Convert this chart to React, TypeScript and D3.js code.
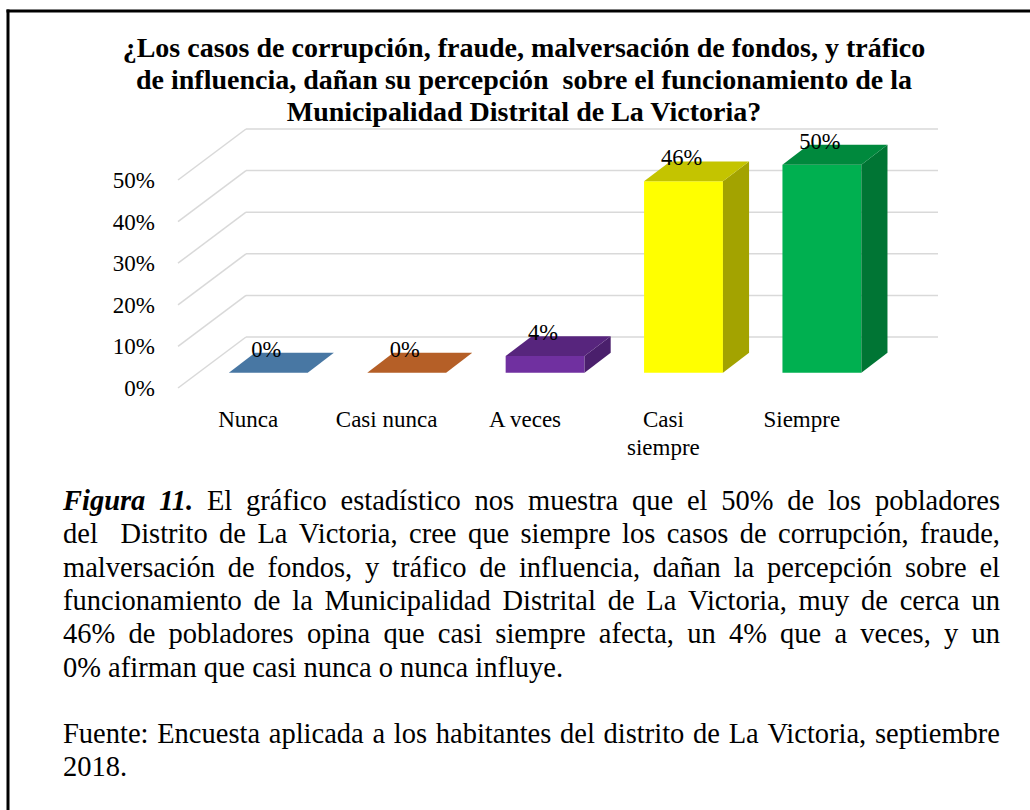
import React, { useMemo } from "react";
import * as d3 from "d3";

const titleLines = [
  "¿Los casos de corrupción, fraude, malversación de fondos, y tráfico",
  "de influencia, dañan su percepción  sobre el funcionamiento de la",
  "Municipalidad Distrital de La Victoria?",
];
const categories = ["Nunca", "Casi nunca", "A veces", "Casi siempre", "Siempre"];
const categoryLabelLines = [["Nunca"], ["Casi nunca"], ["A veces"], ["Casi", "siempre"], ["Siempre"]];
const values = [0, 0, 0.04, 0.46, 0.5];
const yTicks = [0, 0.1, 0.2, 0.3, 0.4, 0.5];

const frontColors = ["#5B9BD5", "#ED7D31", "#7030A0", "#FFFF00", "#00B050"];
const topColors = ["#4877A3", "#B55F27", "#57257D", "#C4C400", "#00893D"];
const sideColors = ["#3D6590", "#9A5022", "#4A1F6C", "#A3A300", "#007534"];

const captionLeadBold = "Figura 11.";
const captionLines = [
  " El gráfico estadístico nos muestra que el 50% de los pobladores",
  "del  Distrito de La Victoria, cree que siempre los casos de corrupción, fraude,",
  "malversación de fondos, y tráfico de influencia, dañan la percepción sobre el",
  "funcionamiento de la Municipalidad Distrital de La Victoria, muy de cerca un",
  "46% de pobladores opina que casi siempre afecta, un 4% que a veces, y un",
  "0% afirman que casi nunca o nunca influye.",
];
const sourceLines = [
  "Fuente: Encuesta aplicada a los habitantes del distrito de La Victoria, septiembre",
  "2018.",
];

const FONT = "'Liberation Serif', 'Times New Roman', serif";

let _canvas: HTMLCanvasElement | null = null;
function measure(text: string, font: string): number {
  if (!_canvas) _canvas = document.createElement("canvas");
  const ctx = _canvas.getContext("2d")!;
  ctx.font = font;
  return ctx.measureText(text).width;
}

type Tok = { text: string; bold: boolean };

function justify(tokens: Tok[], left: number, width: number, size: number, doJustify: boolean) {
  const reg = `${size}px 'Liberation Serif'`;
  const bi = `italic bold ${size}px 'Liberation Serif'`;
  const widths = tokens.map((t) => (t.text ? measure(t.text, t.bold ? bi : reg) : 0));
  const space = measure(" ", reg);
  const sum = d3.sum(widths);
  const gaps = tokens.length - 1;
  const gap = doJustify && gaps > 0 ? Math.max(space * 0.9, (width - sum) / gaps) : space;
  const out: { text: string; bold: boolean; x: number }[] = [];
  let x = left;
  tokens.forEach((t, i) => {
    out.push({ text: t.text, bold: t.bold, x });
    x += widths[i] + gap;
  });
  return out;
}

function toTokens(line: string, bold = false): Tok[] {
  return line.split(" ").map((w) => ({ text: w, bold }));
}

export default function App() {
  const W = 1030;
  const H = 810;

  const DX = 67;
  const DY = 51;
  const z0 = 0.3;
  const z1 = 0.69;

  const x = d3.scaleBand<string>().domain(categories).range([179, 871]).padding(0);
  const y = d3.scaleLinear().domain([0, 0.5]).range([388, 180]);
  const barFrac = 0.57;
  const fmt = d3.format(".0%");

  const capSize = 28.5;
  const capLeft = 63;
  const capWidth = 937;
  const capBase = 510;
  const capLH = 33.3;

  const caption = useMemo(() => {
    const lines: { words: { text: string; bold: boolean; x: number }[]; y: number }[] = [];
    captionLines.forEach((ln, i) => {
      let toks: Tok[];
      if (i === 0) {
        toks = [...toTokens(captionLeadBold, true), ...toTokens(ln.trim())];
      } else toks = toTokens(ln);
      lines.push({ words: justify(toks, capLeft, capWidth, capSize, i < captionLines.length - 1), y: capBase + i * capLH });
    });
    sourceLines.forEach((ln, i) => {
      lines.push({ words: justify(toTokens(ln), capLeft, capWidth, capSize, i === 0), y: 743 + i * capLH });
    });
    return lines;
  }, []);

  const proj = (px: number, v: number, z: number): [number, number] => [px + z * DX, y(v) - z * DY];
  const poly = (pts: [number, number][]) => pts.map((p) => p.join(",")).join(" ");

  return (
    <svg
      width={W}
      height={H}
      style={{ position: "absolute", left: 0, top: 0, background: "#fff" }}
      fontFamily={FONT}
    >
      <rect x={0} y={0} width={W} height={H} fill="#fff" />
      <line x1={6.5} y1={11} x2={W} y2={11} stroke="#000" strokeWidth={3} />
      <line x1={8} y1={9.5} x2={8} y2={H} stroke="#000" strokeWidth={3} />

      {titleLines.map((t, i) => (
        <text key={i} x={524} y={57 + i * 32} textAnchor="middle" fontWeight="bold" fontSize={28} fill="#000" style={{ whiteSpace: "pre" }}>
          {t}
        </text>
      ))}

      <g stroke="#D9D9D9" strokeWidth={1.5} fill="none">
        {yTicks.map((t) => {
          const [bx0, by] = proj(x.range()[0], t, 1);
          const [bx1] = proj(x.range()[1], t, 1);
          const [fx, fy] = proj(x.range()[0] - 1, t, 0);
          return (
            <g key={t}>
              <line x1={bx0} y1={by} x2={bx1} y2={by} />
              <polyline points={poly([[fx, fy], [bx0, by]])} />
            </g>
          );
        })}
      </g>

      {yTicks.map((t) => (
        <text key={t} x={155} y={y(t) + 8} textAnchor="end" fontSize={23} fill="#000">
          {fmt(t)}
        </text>
      ))}

      {categories.map((c, i) => {
        const bw = x.bandwidth() * barFrac;
        const left = x(c)! + (x.bandwidth() - bw) / 2;
        const right = left + bw;
        const v = values[i];
        const fbl = proj(left, 0, z0);
        const fbr = proj(right, 0, z0);
        const ftl = proj(left, v, z0);
        const ftr = proj(right, v, z0);
        const btl = proj(left, v, z1);
        const btr = proj(right, v, z1);
        const bbr = proj(right, 0, z1);
        return (
          <g key={c}>
            {v > 0 && <polygon points={poly([fbl, fbr, ftr, ftl])} fill={frontColors[i]} />}
            {v > 0 && <polygon points={poly([fbr, bbr, btr, ftr])} fill={sideColors[i]} />}
            <polygon points={poly([ftl, ftr, btr, btl])} fill={topColors[i]} />
          </g>
        );
      })}

      {categories.map((c, i) => {
        const cx = x(c)! + x.bandwidth() / 2 + z0 * DX - 2;
        const [, ty] = proj(0, values[i], z1);
        return (
          <text key={c} x={cx} y={ty + 4} textAnchor="middle" fontSize={22.5} fill="#000">
            {fmt(values[i])}
          </text>
        );
      })}

      {categories.map((c, i) => (
        <text key={c} x={x(c)! + x.bandwidth() / 2} y={427} textAnchor="middle" fontSize={23} fill="#000">
          {categoryLabelLines[i].map((ln, j) => (
            <tspan key={j} x={x(c)! + x.bandwidth() / 2} y={427 + j * 28}>
              {ln}
            </tspan>
          ))}
        </text>
      ))}

      {caption.map((ln, i) =>
        ln.words.map((w, j) =>
          w.text ? (
            <text
              key={`${i}-${j}`}
              x={w.x}
              y={ln.y}
              fontSize={capSize}
              fontWeight={w.bold ? "bold" : "normal"}
              fontStyle={w.bold ? "italic" : "normal"}
              fill="#000"
            >
              {w.text}
            </text>
          ) : null
        )
      )}
    </svg>
  );
}
